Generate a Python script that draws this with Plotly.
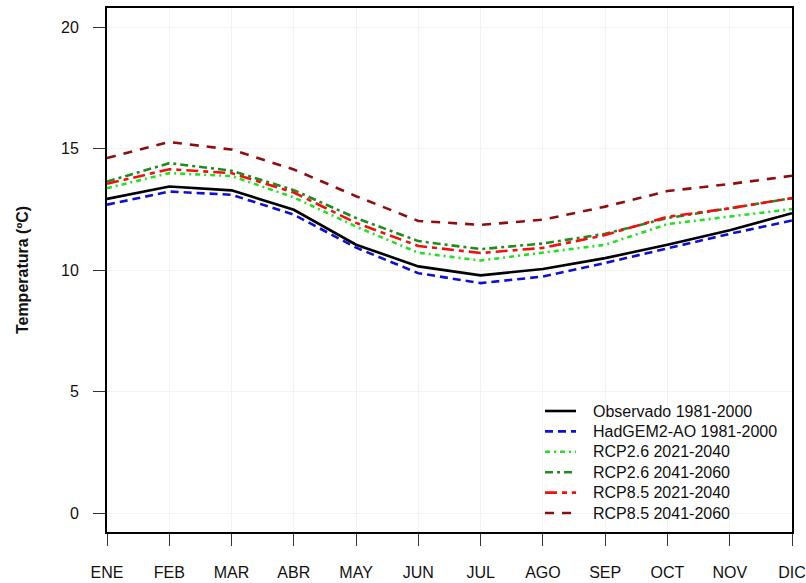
import plotly.graph_objects as go

months = ["ENE", "FEB", "MAR", "ABR", "MAY", "JUN", "JUL", "AGO", "SEP", "OCT", "NOV", "DIC"]
obs = [12.94, 13.45, 13.29, 12.49, 11.05, 10.16, 9.79, 10.05, 10.50, 11.05, 11.65, 12.35]
hadgem = [12.70, 13.24, 13.11, 12.29, 10.93, 9.88, 9.47, 9.74, 10.30, 10.90, 11.50, 12.05]
rcp26_2040 = [13.38, 14.00, 13.88, 13.00, 11.80, 10.72, 10.40, 10.72, 11.05, 11.90, 12.20, 12.52]
rcp26_2060 = [13.65, 14.41, 14.10, 13.30, 12.15, 11.20, 10.87, 11.10, 11.50, 12.15, 12.55, 12.97]
rcp85_2040 = [13.56, 14.16, 14.00, 13.20, 11.95, 11.00, 10.71, 10.92, 11.45, 12.20, 12.55, 12.97]
rcp85_2060 = [14.62, 15.28, 14.97, 14.15, 13.05, 12.03, 11.87, 12.08, 12.62, 13.26, 13.55, 13.89]

names = ["Observado 1981-2000", "HadGEM2-AO 1981-2000", "RCP2.6 2021-2040",
         "RCP2.6 2041-2060", "RCP8.5 2021-2040", "RCP8.5 2041-2060"]
series = [obs, hadgem, rcp26_2040, rcp26_2060, rcp85_2040, rcp85_2060]
colors = ["#000000", "#1010D0", "#22E022", "#1E8C1E", "#F01010", "#8E0E0E"]
dashes = ["solid", "8px,5px", "5px,4px,2px,4px", "8px,4px,3px,4px", "12px,5px,5px,5px", "9px,8px"]

W, H = 806, 583
ML, MR, MT, MB = 107, 14, 8, 51
PW, PH = W - ML - MR, H - MT - MB

def px2x(p):
    return (p - ML) / PW

def py2y(p):
    return (H - MB - p) / PH

x = list(range(1, 13))
fig = go.Figure()
for nm, ys, c, d in zip(names, series, colors, dashes):
    fig.add_trace(go.Scatter(x=x, y=ys, mode="lines", name=nm, showlegend=False,
                             line=dict(color=c, width=2.6, dash=d)))

font = "Liberation Sans, Arial, sans-serif"

# manual legend (key lines + labels)
shapes, annotations = [], []
for i, (nm, c, d) in enumerate(zip(names, colors, dashes)):
    yc = 411 + 20.4 * i
    shapes.append(dict(type="line", xref="paper", yref="paper",
                       x0=px2x(545), x1=px2x(576), y0=py2y(yc), y1=py2y(yc),
                       line=dict(color=c, width=2.6, dash=d)))
    annotations.append(dict(text=nm, xref="paper", yref="paper", x=px2x(591), y=py2y(yc),
                            xanchor="left", yanchor="middle", showarrow=False,
                            font=dict(size=16, family=font, color="#111111")))

fig.update_layout(
    width=W, height=H,
    margin=dict(l=ML, r=MR, t=MT, b=MB),
    paper_bgcolor="white", plot_bgcolor="white",
    font=dict(family=font, size=16, color="#111111"),
    showlegend=False,
    shapes=shapes, annotations=annotations,
    xaxis=dict(range=[1, 12], tickmode="array", tickvals=x, ticktext=months,
               showline=True, mirror=True, linecolor="black", linewidth=2,
               ticks="outside", ticklen=12, tickcolor="#333333", tickwidth=1,
               ticklabelstandoff=13, automargin=False,
               tickfont=dict(size=16),
               showgrid=True, gridcolor="#f3f3f3", zeroline=False),
    yaxis=dict(range=[-0.78, 20.8], tickvals=[0, 5, 10, 15, 20],
               showline=True, mirror=True, linecolor="black", linewidth=2,
               ticks="outside", ticklen=12, tickcolor="#333333", tickwidth=1,
               ticklabelstandoff=11, tickfont=dict(size=16),
               showgrid=True, gridcolor="#f3f3f3", zeroline=False,
               title=dict(text="<b>Temperatura (ºC)</b>", font=dict(size=16, family=font),
                          standoff=28)),
)
fig.write_html("out.html")
